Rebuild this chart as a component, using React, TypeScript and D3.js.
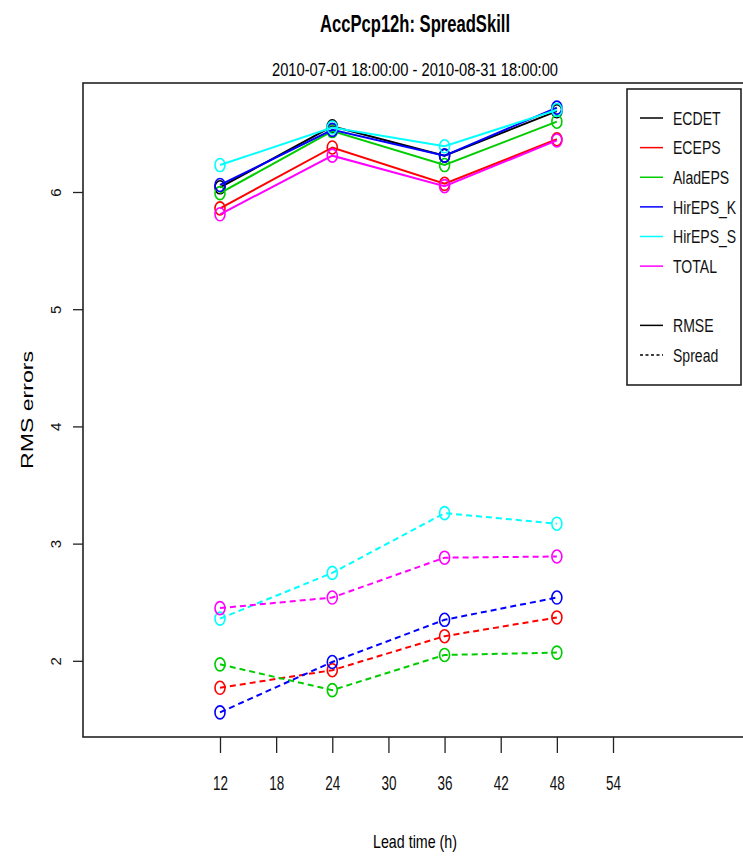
import React, { useRef, useEffect } from 'react';
import * as d3 from 'd3';

const leadTimes = [12, 24, 36, 48];
const xTicks = [12, 18, 24, 30, 36, 42, 48, 54];
const yTicks = [2, 3, 4, 5, 6];

const seriesNames = ['ECDET', 'ECEPS', 'AladEPS', 'HirEPS_K', 'HirEPS_S', 'TOTAL'];
const seriesColors = ['#000000', '#FF0000', '#00CD00', '#0000FF', '#00FFFF', '#FF00FF'];

// RMSE (solid)
const rmseECDET = [6.04, 6.56, 6.31, 6.69];
const rmseECEPS = [5.86, 6.38, 6.07, 6.45];
const rmseAladEPS = [5.99, 6.52, 6.23, 6.60];
const rmseHirEPSK = [6.06, 6.53, 6.31, 6.72];
const rmseHirEPSS = [6.23, 6.55, 6.39, 6.70];
const rmseTOTAL = [5.81, 6.31, 6.05, 6.44];

// Spread (dashed), no spread for deterministic ECDET
const spreadECEPS = [1.77, 1.92, 2.21, 2.37];
const spreadAladEPS = [1.97, 1.75, 2.05, 2.07];
const spreadHirEPSK = [1.56, 1.99, 2.35, 2.54];
const spreadHirEPSS = [2.36, 2.75, 3.26, 3.17];
const spreadTOTAL = [2.45, 2.54, 2.88, 2.89];

const rmseData = [rmseECDET, rmseECEPS, rmseAladEPS, rmseHirEPSK, rmseHirEPSS, rmseTOTAL];
const spreadData = [null, spreadECEPS, spreadAladEPS, spreadHirEPSK, spreadHirEPSS, spreadTOTAL];

const width = 743;
const height = 857;

const App = () => {
  const svgRef = useRef<SVGSVGElement>(null);

  useEffect(() => {
    const svg = d3.select(svgRef.current);
    svg.selectAll('*').remove();

    const plot = { left: 83, right: 750, top: 83, bottom: 737 };

    // R style: xlim 0..66 with 4% extension
    const xScale = d3.scaleLinear().domain([-2.64, 68.64]).range([plot.left, plot.right]);
    const yScale = d3.scaleLinear().domain([1.35, 6.93]).range([plot.bottom, plot.top]);

    const font = 'Liberation Sans, Arial, sans-serif';

    // titles (narrow, tall glyphs)
    svg.append('text')
      .attr('x', 415).attr('y', 32)
      .attr('text-anchor', 'middle')
      .attr('font-family', font).attr('font-weight', 'bold').attr('font-size', 24)
      .attr('textLength', 190).attr('lengthAdjust', 'spacingAndGlyphs')
      .text('AccPcp12h: SpreadSkill');
    svg.append('text')
      .attr('x', 415).attr('y', 76)
      .attr('text-anchor', 'middle')
      .attr('font-family', font).attr('font-size', 19)
      .attr('textLength', 286).attr('lengthAdjust', 'spacingAndGlyphs')
      .text('2010-07-01 18:00:00 - 2010-08-31 18:00:00');

    const line = d3.line<number>()
      .x((d, i) => xScale(leadTimes[i]))
      .y(d => yScale(d));

    const drawSeries = (vals: number[], color: string, dashed: boolean) => {
      svg.append('path')
        .datum(vals)
        .attr('fill', 'none')
        .attr('stroke', color)
        .attr('stroke-width', 2)
        .attr('stroke-dasharray', dashed ? '6,4' : null)
        .attr('d', line);
      svg.selectAll(null)
        .data(vals)
        .enter()
        .append('ellipse')
        .attr('cx', (d, i) => xScale(leadTimes[i]))
        .attr('cy', d => yScale(d))
        .attr('rx', 5).attr('ry', 6.5)
        .attr('fill', 'none')
        .attr('stroke', color)
        .attr('stroke-width', 1.6);
    };

    seriesNames.forEach((name, k) => {
      drawSeries(rmseData[k], seriesColors[k], false);
      const sp = spreadData[k];
      if (sp) drawSeries(sp, seriesColors[k], true);
    });

    // box
    svg.append('rect')
      .attr('x', plot.left).attr('y', plot.top)
      .attr('width', plot.right - plot.left).attr('height', plot.bottom - plot.top)
      .attr('fill', 'none').attr('stroke', '#222').attr('stroke-width', 1.6);

    // x axis
    const xAxis = svg.append('g')
      .attr('transform', `translate(0, ${plot.bottom})`)
      .call(d3.axisBottom(xScale).tickValues(xTicks).tickSize(16).tickFormat(d3.format('d')));
    xAxis.select('.domain').remove();
    xAxis.selectAll('line').attr('stroke', '#222').attr('stroke-width', 1.3);
    xAxis.selectAll('text')
      .attr('y', 53).attr('dy', null)
      .attr('font-family', font).attr('font-size', 20).attr('fill', '#111')
      .attr('textLength', 15).attr('lengthAdjust', 'spacingAndGlyphs');

    // y axis
    const yAxis = svg.append('g')
      .attr('transform', `translate(${plot.left}, 0)`)
      .call(d3.axisLeft(yScale).tickValues(yTicks).tickSize(10).tickFormat(d3.format('d')));
    yAxis.select('.domain').remove();
    yAxis.selectAll('line').attr('stroke', '#222').attr('stroke-width', 1.3);
    yAxis.selectAll('text')
      .attr('font-family', font).attr('font-size', 15).attr('fill', '#111')
      .attr('x', null).attr('dy', null)
      .attr('text-anchor', 'middle')
      .attr('transform', 'translate(-22, 0) rotate(-90)');

    svg.append('text')
      .attr('transform', `translate(33, 410) rotate(-90)`)
      .attr('text-anchor', 'middle')
      .attr('font-family', font).attr('font-size', 16)
      .attr('textLength', 118).attr('lengthAdjust', 'spacingAndGlyphs')
      .text('RMS errors');

    svg.append('text')
      .attr('x', 415).attr('y', 848)
      .attr('text-anchor', 'middle')
      .attr('font-family', font).attr('font-size', 19)
      .attr('textLength', 84).attr('lengthAdjust', 'spacingAndGlyphs')
      .text('Lead time (h)');

    // legend
    const legend = svg.append('g');
    legend.append('rect')
      .attr('x', 627).attr('y', 89).attr('width', 114).attr('height', 296)
      .attr('fill', 'white').attr('stroke', '#222').attr('stroke-width', 1.6);
    const legendItems = [
      ...seriesNames.map((n, k) => ({ label: n, color: seriesColors[k], dashed: false })),
      null,
      { label: 'RMSE', color: '#000', dashed: false },
      { label: 'Spread', color: '#000', dashed: true },
    ];
    const ly = d3.scaleLinear().domain([0, legendItems.length - 1]).range([118, 355]);
    const sx = 0.74;
    legendItems.forEach((it, i) => {
      if (!it) return;
      legend.append('line')
        .attr('x1', 640).attr('x2', 663)
        .attr('y1', ly(i)).attr('y2', ly(i))
        .attr('stroke', it.color).attr('stroke-width', 1.5)
        .attr('stroke-dasharray', it.dashed ? '3,2.5' : null);
      legend.append('text')
        .attr('x', 673).attr('y', ly(i)).attr('dy', '0.36em')
        .attr('font-family', font).attr('font-size', 19).attr('fill', '#111')
        .attr('transform', `translate(${673 * (1 - sx)}, 0) scale(${sx}, 1)`)
        .text(it.label);
    });
  }, []);

  return (
    <svg
      ref={svgRef}
      width={width}
      height={height}
      style={{ position: 'absolute', left: 0, top: 0, background: 'white' }}
    ></svg>
  );
};

export default App;
